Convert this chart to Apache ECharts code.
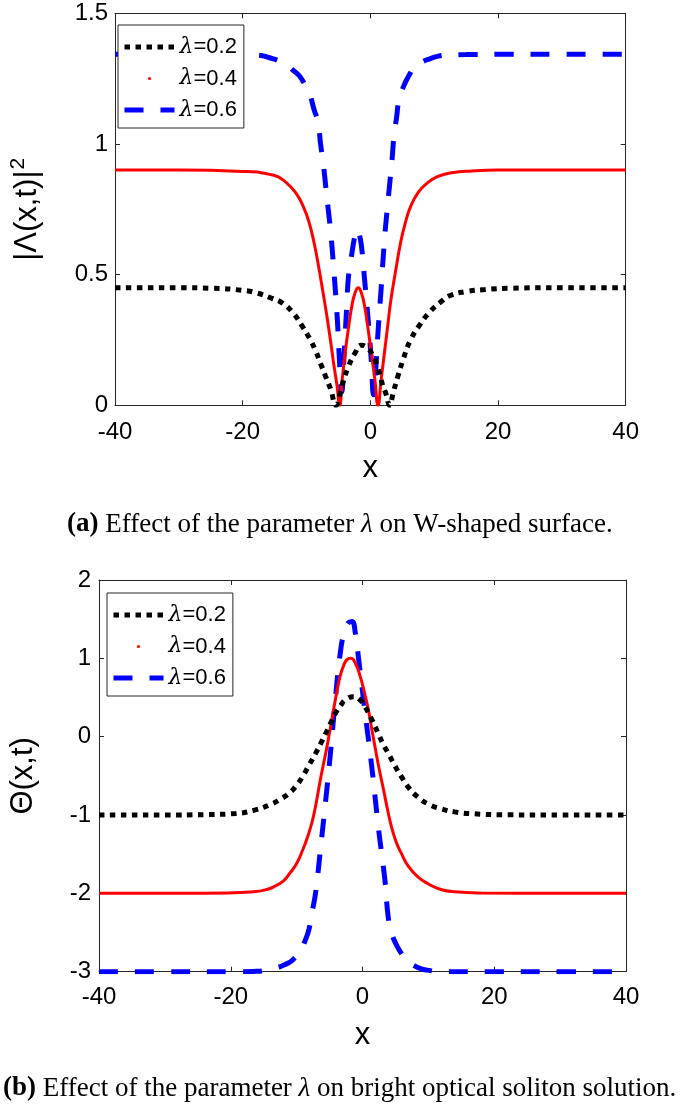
<!DOCTYPE html>
<html>
<head>
<meta charset="utf-8">
<script src="https://cdn.jsdelivr.net/npm/echarts@6/dist/echarts.min.js"></script>
<style>
  html, body { margin: 0; padding: 0; background: #fff; }
  #chart { width: 685px; height: 1107px; }
</style>
</head>
<body>
<div id="chart"></div>
<script>
// (a) |Λ(x,t)|^2, W-shaped
const wX02 = [-40, -30, -25, -20, -17.8, -15.5, -13.7, -12, -10.6, -9.5, -8.6, -7.8, -7.0, -6.2, -5.4, -4.4, -3.4, -2.4, -1.4, -0.5, 0.4, 1.2, 1.9, 2.5, 3.0, 3.6, 4.3, 5.2, 6.3, 7.8, 9.4, 11, 12.5, 15, 18, 22, 30, 40];
const wY02 = [0.45, 0.45, 0.448, 0.44, 0.43, 0.41, 0.39, 0.35, 0.30, 0.255, 0.21, 0.16, 0.11, 0.06, 0.0, 0.08, 0.15, 0.2, 0.23, 0.22, 0.19, 0.14, 0.08, 0.04, 0.0, 0.05, 0.11, 0.18, 0.25, 0.31, 0.36, 0.395, 0.42, 0.435, 0.443, 0.448, 0.45, 0.45];

const wX04 = [-40, -30, -20, -15.1, -13.3, -11.6, -10.5, -9.6, -8.8, -8.1, -7.4, -6.8, -6.2, -5.75, -5.25, -4.8, -4.4, -3.95, -3.4, -2.9, -2.4, -1.9, -1.4, -0.9, -0.4, 0.15, 0.7, 1.2, 1.7, 2.2, 2.7, 3.2, 4.0, 4.8, 5.5, 6.3, 7.5, 8.9, 10.5, 12.7, 16, 20, 30, 40];
const wY04 = [0.9, 0.9, 0.895, 0.88, 0.855, 0.81, 0.76, 0.70, 0.62, 0.53, 0.43, 0.34, 0.24, 0.16, 0.08, 0.0, 0.1, 0.20, 0.30, 0.38, 0.43, 0.45, 0.43, 0.38, 0.30, 0.20, 0.10, 0.0, 0.1, 0.20, 0.30, 0.40, 0.52, 0.63, 0.70, 0.76, 0.815, 0.85, 0.875, 0.89, 0.897, 0.9, 0.9, 0.9];

const wX06 = [-40, -30, -20, -17.5, -15.8, -14.5, -13.2, -12, -11.1, -10.2, -9.6, -8.8, -8.2, -7.8, -7.4, -7.0, -6.6, -6.2, -5.7, -5.2, -4.9, -4.5, -4.1, -3.7, -3.4, -2.9, -2.5, -2.15, -1.8, -1.4, -0.9, -0.35, 0.15, 0.5, 0.85, 1.2, 1.7, 2.2, 2.6, 3.0, 3.4, 3.7, 4.1, 4.5, 5.2, 6.0, 7.1, 8.2, 9.2, 10.5, 12, 15, 20, 30, 40];
const wY06 = [1.343, 1.343, 1.342, 1.34, 1.33, 1.32, 1.305, 1.28, 1.26, 1.225, 1.20, 1.13, 1.085, 1.0, 0.93, 0.84, 0.75, 0.66, 0.51, 0.34, 0.20, 0.05, 0.2, 0.38, 0.50, 0.58, 0.64, 0.675, 0.66, 0.61, 0.48, 0.33, 0.17, 0.04, 0.14, 0.28, 0.45, 0.63, 0.74, 0.84, 0.94, 1.03, 1.10, 1.17, 1.22, 1.26, 1.30, 1.315, 1.325, 1.335, 1.34, 1.342, 1.343, 1.343, 1.343];

// (b) Θ(x,t), bright soliton
const bX02 = [-40, -30, -24, -19.2, -16.5, -14.1, -12.5, -11.1, -10, -9.1, -8.1, -7.1, -6.3, -5.6, -4.8, -4.1, -3.3, -2.6, -1.35, -0.5, 0.4, 1.4, 2.4, 3.1, 3.9, 4.9, 5.9, 7.1, 8.4, 10, 11.9, 14, 17, 22, 30, 40];
const bY02 = [-1, -1, -0.995, -0.98, -0.94, -0.87, -0.80, -0.72, -0.62, -0.51, -0.36, -0.21, -0.08, 0.04, 0.18, 0.30, 0.40, 0.47, 0.51, 0.48, 0.38, 0.22, 0.04, -0.09, -0.21, -0.37, -0.51, -0.66, -0.77, -0.86, -0.92, -0.96, -0.985, -0.997, -1, -1];

const bX04 = [-40, -30, -24, -16.6, -14.5, -13.1, -12, -11.1, -10, -9.1, -8.3, -7.6, -7.0, -6.4, -5.9, -5.4, -4.9, -4.4, -3.9, -3.4, -2.9, -2.4, -1.76, -1.1, -0.35, 0.3, 0.9, 1.4, 1.9, 2.5, 3.2, 3.8, 4.4, 5.1, 5.9, 7, 8.4, 10, 11.9, 14, 18, 30, 40];
const bY04 = [-2, -2, -2, -1.98, -1.95, -1.90, -1.84, -1.75, -1.62, -1.45, -1.27, -1.07, -0.83, -0.55, -0.34, -0.13, 0.1, 0.34, 0.57, 0.77, 0.9, 0.98, 1.0, 0.94, 0.77, 0.56, 0.34, 0.1, -0.13, -0.40, -0.68, -0.93, -1.15, -1.34, -1.49, -1.66, -1.79, -1.88, -1.95, -1.98, -1.995, -2, -2];

const bX06 = [-40, -30, -20, -16, -14.6, -13, -11.8, -10.6, -9.4, -8.6, -8.1, -7.6, -7.1, -6.4, -5.6, -4.9, -4.1, -3.4, -2.8, -2.2, -1.6, -1.1, -0.6, 0.4, 1.4, 2.4, 3.4, 3.9, 4.4, 5.1, 5.85, 6.8, 7.8, 8.8, 9.8, 12, 20, 30, 40];
const bY06 = [-3, -3, -3, -2.995, -2.98, -2.95, -2.91, -2.85, -2.72, -2.58, -2.45, -2.22, -1.98, -1.45, -0.82, -0.24, 0.5, 1.05, 1.33, 1.45, 1.47, 1.33, 1.0, 0.30, -0.38, -1.15, -1.83, -2.3, -2.5, -2.65, -2.76, -2.86, -2.92, -2.96, -2.98, -3, -3, -3, -3];

const names = ['λ=0.2', 'λ=0.4', 'λ=0.6'];

const FONT = 'Liberation Sans, Arial, sans-serif';
const SERIF = 'Liberation Serif, serif';
const AXIS_COLOR = '#262626';

const zip = (xs, ys) => xs.map((x, i) => [x, ys[i]]);

const lineStyles = [
  { color: '#000', width: 5, type: [5.5, 5.5], cap: 'butt' },
  { color: '#ff0000', width: 3, type: 'solid' },
  { color: '#0000ff', width: 5, type: [19, 17], cap: 'butt' },
];

const makeSeries = (gridIdx, sets) =>
  sets.map((d, i) => ({
    name: names[i],
    type: 'line',
    xAxisIndex: gridIdx * 2,
    yAxisIndex: gridIdx * 2,
    data: zip(d[0], d[1]),
    smooth: 0.5,
    showSymbol: false,
    symbol: 'circle',
    color: lineStyles[i].color,
    lineStyle: lineStyles[i],
    z: 5 - i,
  }));

const tick = { inside: true, length: 5, lineStyle: { color: AXIS_COLOR } };
const line = { show: true, onZero: false, lineStyle: { color: AXIS_COLOR } };

const nameStyle = {
  fontSize: 31, color: '#000', fontFamily: FONT,
  rich: {
    s: { fontSize: 21, fontFamily: FONT, color: '#000', padding: [0, 0, 18, 1] },
  },
};

const xAxisPair = (gridIndex, margin, nameGap) => [
  {
    type: 'value', gridIndex, min: -40, max: 40, interval: 20,
    name: 'x', nameLocation: 'middle', nameGap,
    nameTextStyle: nameStyle,
    axisLine: line,
    axisTick: tick,
    axisLabel: { fontSize: 24, color: '#000', fontFamily: FONT, margin },
    splitLine: { show: false },
  },
  {
    type: 'value', gridIndex, position: 'top', min: -40, max: 40, interval: 20,
    axisLine: line,
    axisTick: tick,
    axisLabel: { show: false },
    splitLine: { show: false },
  },
];

const yAxisPair = (gridIndex, min, max, interval, name, nameGap, margin) => [
  {
    type: 'value', gridIndex, min, max, interval,
    name, nameLocation: 'middle', nameGap,
    nameTextStyle: nameStyle,
    axisLine: line,
    axisTick: { show: true, ...tick },
    axisLabel: { fontSize: 24, color: '#000', fontFamily: FONT, margin },
    splitLine: { show: false },
  },
  {
    type: 'value', gridIndex, position: 'right', min, max, interval,
    axisLine: line,
    axisTick: { show: true, ...tick },
    axisLabel: { show: false },
    splitLine: { show: false },
  },
];

const makeLegend = (left, top) => ({
  orient: 'vertical',
  left, top,
  itemWidth: 50,
  itemHeight: 4,
  itemGap: 9.5,
  padding: [11, 7, 7, 4],
  borderColor: AXIS_COLOR,
  borderWidth: 1,
  backgroundColor: '#fff',
  textStyle: {
    fontSize: 22, color: '#000', fontFamily: FONT,
    rich: { l: { fontSize: 22, fontStyle: 'italic', fontFamily: 'DejaVu Serif' } },
  },
  formatter: (n) => n.replace('λ', '{l|λ}'),
  itemStyle: { opacity: 0 },
  data: [
    { name: names[0], lineStyle: { width: 5 } },
    { name: names[1], itemStyle: { opacity: 1 }, lineStyle: { opacity: 0 } },
    { name: names[2], lineStyle: { width: 5 } },
  ],
});

const captionRich = {
  b: { fontSize: 27, fontWeight: 'bold', fontFamily: SERIF },
  l: { fontSize: 27, fontStyle: 'italic', fontFamily: SERIF },
};

const chart = echarts.init(document.getElementById('chart'));

chart.setOption({
  animation: false,
  backgroundColor: '#fff',
  grid: [
    { left: 105.7, width: 520, top: 13.3, height: 392 },
    { left: 95, width: 531, top: 580, height: 391.7 },
  ],
  xAxis: [...xAxisPair(0, 15, 48), ...xAxisPair(1, 14, 48)],
  yAxis: [
    ...yAxisPair(0, 0, 1.5, 0.5, '|Λ(x,t)|{s|2}', 68, 7),
    ...yAxisPair(1, -3, 2, 1, 'Θ(x,t)', 60, 8),
  ],
  legend: [makeLegend(118, 25), makeLegend(107, 593)],
  series: [
    ...makeSeries(0, [[wX02, wY02], [wX04, wY04], [wX06, wY06]]),
    ...makeSeries(1, [[bX02, bY02], [bX04, bY04], [bX06, bY06]]),
  ],
  graphic: [
    {
      type: 'text', left: 67, top: 511,
      style: {
        text: '{b|(a)} Effect of the parameter {l|λ} on W-shaped surface.',
        fontSize: 27, fontFamily: SERIF, fill: '#000',
        rich: captionRich,
      },
    },
    {
      type: 'text', left: 3, top: 1075,
      style: {
        text: '{b|(b)} Effect of the parameter {l|λ} on bright optical soliton solution.',
        fontSize: 27, fontFamily: SERIF, fill: '#000',
        rich: captionRich,
      },
    },
  ],
});
</script>
</body>
</html>
